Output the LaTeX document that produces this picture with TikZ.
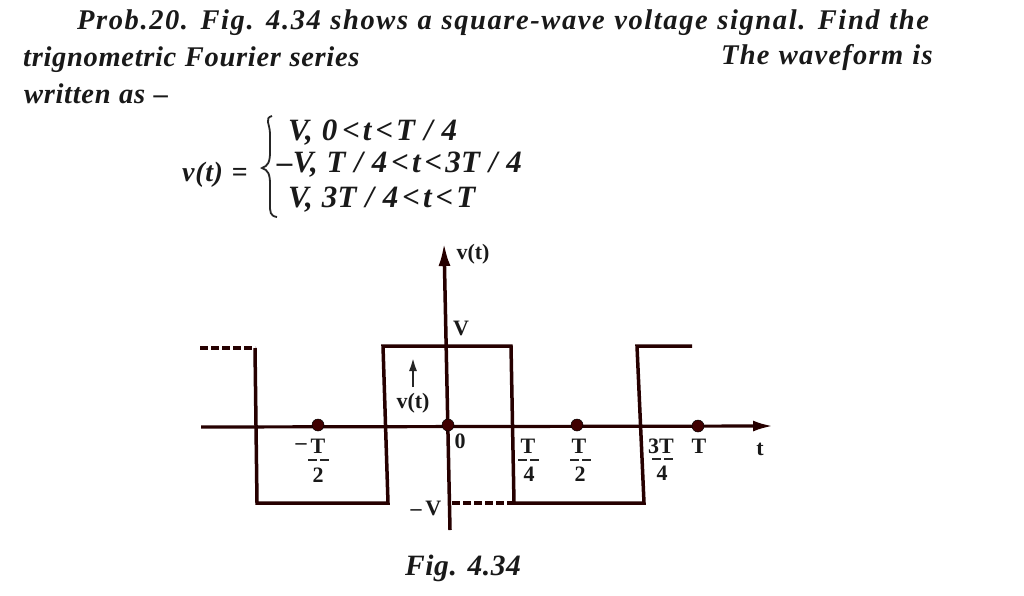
\documentclass[tikz,border=0pt]{standalone}
\usepackage{fontspec}
\setmainfont{Liberation Serif}
\usetikzlibrary{arrows.meta}
\newfontfamily\headfont[LetterSpace=2.4,WordSpace=1.1]{Liberation Serif}
\newfontfamily\headfontA[LetterSpace=5.6,WordSpace=1.1]{Liberation Serif}
\newfontfamily\headfontB[LetterSpace=4.4,WordSpace=1.1]{Liberation Serif}
\newfontfamily\eqfont[LetterSpace=1,WordSpace=1.1]{Liberation Serif}
\newfontfamily\figfont[LetterSpace=2]{Liberation Serif}
\tikzset{
  x=1pt,y=-1pt,
  ink/.style={draw=black!85!red,line width=3.5pt,line join=miter},
  thin ink/.style={draw=black!85!red,line width=3.2pt},
  dashline/.style={draw=black!85!red,line width=3.2pt,dash pattern=on 8pt off 3pt},
  headtext/.style={anchor=base west,inner sep=0pt,font=\headfont\bfseries\itshape\fontsize{28.5}{28.5}\selectfont,text=black!90},
  eqtext/.style={anchor=base west,inner sep=0pt,font=\eqfont\bfseries\itshape\fontsize{31}{31}\selectfont,text=black!90},
  labeltext/.style={inner sep=0pt,font=\rmfamily\bfseries\fontsize{22}{22}\selectfont,text=black!90},
  tick dot/.style={circle,fill=black!75!red,draw=black,line width=.5pt,minimum size=12pt,inner sep=0pt},
  fracbar/.style={draw=black!85,line width=2pt,dash pattern=on 9pt off 3pt},
}
\begin{document}
\begin{tikzpicture}
\useasboundingbox (0,0) rectangle (1024,595);
\fill[white] (0,0) rectangle (1024,595);
% heading
\node[headtext,font=\headfontA\bfseries\itshape\fontsize{28.5}{28.5}\selectfont] (h1) at (77,29) {Prob.20. Fig. 4.34 shows a square-wave voltage signal. Find the};
\node[headtext] (h2) at (23,66) {trignometric Fourier series};
\node[headtext,font=\headfontB\bfseries\itshape\fontsize{28.5}{28.5}\selectfont] (h2b) at (721,64) {The waveform is};
\node[headtext] (h3) at (24,103) {written as –};
% equation
\node[eqtext,font=\headfont\bfseries\itshape\fontsize{28}{28}\selectfont] (vt) at (182,181) {v(t) =};
\draw[line width=1.8pt,draw=black!85] (272,116) .. controls (264,118) and (270,124) .. (270,134) -- (270,152) .. controls (270,162) and (268,166) .. (262,168) .. controls (268,170) and (270,174) .. (270,184) -- (270,204) .. controls (270,212) and (270,216) .. (277,217);
\node[eqtext] (e1) at (288,140) {V, 0\kern5pt<\kern3pt t\kern4pt<\kern3pt T / 4};
\node[eqtext] (e2) at (277,172) {–V, T / 4\kern4pt<\kern3pt t\kern4pt<\kern3pt 3T / 4};
\node[eqtext] (e3) at (288,207) {V, 3T / 4\kern4pt<\kern3pt t\kern4pt<\kern3pt T};
% axes
\coordinate (xl) at (201,427);
\coordinate (xr) at (773,426);
\coordinate (yt) at (444,243);
\coordinate (yb) at (450,530);
\draw[thin ink,-{Latex[length=20pt,width=11pt]}] (xl) -- (xr);
\draw[ink,-{Latex[length=23pt,width=12pt]}] (yb) -- (yt);
% waveform
\coordinate (a0) at (200,348);
\coordinate (a1) at (255,348);
\coordinate (a2) at (257,503);
\coordinate (a3) at (388,503);
\coordinate (a4) at (383,346);
\coordinate (a5) at (511,346);
\coordinate (a6) at (514,503);
\coordinate (a7) at (644,503);
\coordinate (a8) at (637,346);
\coordinate (a9) at (692,346);
\coordinate (b0) at (452,503);
\draw[ink] (a1) -- (a2) -- (a3) -- (a4) -- (a5) -- (a6) -- (a7) -- (a8) -- (a9);
\draw[dashline] (a0) -- (a1);
\draw[dashline] (b0) -- (a6);
% dots
\node[tick dot] (d1) at (318,425) {};
\node[tick dot] (d2) at (448,425) {};
\node[tick dot] (d3) at (577,425) {};
\node[tick dot] (d4) at (698,426) {};
% inner arrow
\coordinate (ia) at (413,387);
\coordinate (ib) at (413,357);
\draw[draw=black!85,line width=2.6pt,-{Latex[length=14pt,width=8pt]}] (ia) -- (ib);
% labels
\node[labeltext] (lvt) at (473,254) {v(t)};
\node[labeltext] (lv) at (461,328) {V};
\node[labeltext] (lvt2) at (413,403) {v(t)};
\node[labeltext] (l0) at (460,441) {0};
\node[labeltext] (lmv) at (426,508) {–\,V};
\node[labeltext] (lm) at (301,447) {–};
\node[labeltext] (t1) at (318,446) {T};
\draw[fracbar] (308,460) -- (329,460);
\node[labeltext] (t1b) at (318,475) {2};
\node[labeltext] (t2) at (528,446) {T};
\draw[fracbar] (518,460) -- (539,460);
\node[labeltext] (t2b) at (529,474) {4};
\node[labeltext] (t3) at (579,446) {T};
\draw[fracbar] (570,460) -- (591,460);
\node[labeltext] (t3b) at (580,474) {2};
\node[labeltext] (t4) at (661,446) {3T};
\draw[fracbar] (652,459) -- (673,459);
\node[labeltext] (t4b) at (662,473) {4};
\node[labeltext] (t5) at (699,446) {T};
\node[labeltext] (lt) at (760,449) {t};
\node[anchor=base,inner sep=0pt,font=\figfont\bfseries\itshape\fontsize{29.5}{29.5}\selectfont,text=black!90] (cap) at (463,575) {Fig. 4.34};
\end{tikzpicture}
\end{document}
